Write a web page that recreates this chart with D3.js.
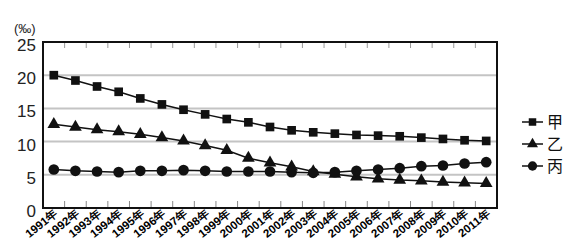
<!DOCTYPE html>
<html>
<head>
<meta charset="utf-8">
<script src="https://cdn.jsdelivr.net/npm/d3@7"></script>
<style>
  body { margin: 0; background: #fff; }
  svg { display: block; }
</style>
</head>
<body>
<div id="chart"></div>
<script>
'use strict';

// Data
const years = ['1991年', '1992年', '1993年', '1994年', '1995年', '1996年', '1997年',
  '1998年', '1999年', '2000年', '2001年', '2002年', '2003年', '2004年', '2005年',
  '2006年', '2007年', '2008年', '2009年', '2010年', '2011年'];
const jia = [20.0, 19.2, 18.3, 17.5, 16.5, 15.6, 14.8, 14.1, 13.4, 12.9, 12.2,
  11.7, 11.4, 11.2, 11.0, 10.9, 10.8, 10.6, 10.4, 10.2, 10.1];
const yi = [12.6, 12.2, 11.8, 11.5, 11.1, 10.6, 10.1, 9.4, 8.7, 7.5, 6.8,
  6.2, 5.5, 5.1, 4.7, 4.4, 4.2, 4.1, 3.9, 3.8, 3.7];
const bing = [5.8, 5.6, 5.5, 5.4, 5.6, 5.6, 5.7, 5.6, 5.5, 5.5, 5.5,
  5.4, 5.3, 5.4, 5.6, 5.8, 6.0, 6.3, 6.4, 6.7, 6.9];
const seriesNames = ['甲', '乙', '丙'];
const yTicks = [0, 5, 10, 15, 20, 25];
const unitLabel = '(‰)';

const W = 566, H = 248;
const plot = {left: 43, right: 497, top: 42, bottom: 208};

const svg = d3.select('#chart').append('svg')
  .attr('width', W).attr('height', H);

const x = d3.scaleBand().domain(years).range([plot.left, plot.right]);
const y = d3.scaleLinear().domain([0, 25]).range([plot.bottom, plot.top]);

// gridlines
svg.append('g')
  .selectAll('line')
  .data(yTicks.filter(d => d > 0 && d < 25))
  .join('line')
  .attr('x1', plot.left).attr('x2', plot.right)
  .attr('y1', d => y(d)).attr('y2', d => y(d))
  .attr('stroke', '#c4c4c4').attr('stroke-width', 2);

// bottom ticks, pointing up at the band edges
svg.append('g')
  .selectAll('line')
  .data(years.slice(1))
  .join('line')
  .attr('x1', d => x(d)).attr('x2', d => x(d))
  .attr('y1', plot.bottom).attr('y2', plot.bottom - 7)
  .attr('stroke', '#888').attr('stroke-width', 1);

// top ticks
svg.append('g')
  .selectAll('line')
  .data(years.slice(1))
  .join('line')
  .attr('x1', d => x(d)).attr('x2', d => x(d))
  .attr('y1', plot.top).attr('y2', plot.top + 6)
  .attr('stroke', '#999').attr('stroke-width', 1);

// x labels
svg.append('g')
  .selectAll('text')
  .data(years)
  .join('text')
  .attr('transform', d => `translate(${x(d) + x.bandwidth() / 2 + 5},${plot.bottom + 7}) rotate(-38)`)
  .attr('text-anchor', 'end')
  .attr('font-family', 'Liberation Sans, Arial, sans-serif')
  .attr('font-size', 11.5)
  .attr('font-weight', 'bold')
  .attr('fill', '#000')
  .text(d => d);

// y axis labels
const yAxis = svg.append('g')
  .attr('transform', `translate(${plot.left},0)`)
  .call(d3.axisLeft(y).tickValues(yTicks).tickSize(0).tickPadding(7));
yAxis.select('.domain').remove();
yAxis.selectAll('text')
  .attr('dy', '0.5em')
  .attr('font-family', 'Liberation Sans, Arial, sans-serif')
  .attr('font-size', 17)
  .attr('fill', '#222');

svg.append('text')
  .attr('x', 14).attr('y', 33)
  .attr('font-family', 'Liberation Sans, Arial, sans-serif')
  .attr('font-size', 13)
  .attr('fill', '#222')
  .text(unitLabel);

// frame
svg.append('rect')
  .attr('x', plot.left).attr('y', plot.top)
  .attr('width', plot.right - plot.left).attr('height', plot.bottom - plot.top)
  .attr('fill', 'none').attr('stroke', '#111').attr('stroke-width', 2);

const cx = d => x(d) + x.bandwidth() / 2;
const line = d3.line().x(d => cx(d.year)).y(d => y(d.v));

const symbols = [d3.symbolSquare, d3.symbolTriangle, d3.symbolCircle];
const symbolSizes = [75, 70, 90];
const allSeries = [jia, yi, bing];

allSeries.forEach((vals, i) => {
  const pts = vals.map((v, j) => ({year: years[j], v}));
  svg.append('path')
    .datum(pts)
    .attr('d', line)
    .attr('fill', 'none')
    .attr('stroke', '#111')
    .attr('stroke-width', 1.5);
  svg.append('g')
    .selectAll('path')
    .data(pts)
    .join('path')
    .attr('transform', d => `translate(${cx(d.year)},${y(d.v)})`)
    .attr('d', d3.symbol(symbols[i], symbolSizes[i]))
    .attr('fill', '#111');
});

// legend
const legend = svg.append('g').attr('transform', 'translate(522,122)');
seriesNames.forEach((name, i) => {
  const g = legend.append('g').attr('transform', `translate(0,${i * 22})`);
  g.append('line')
    .attr('x1', 0).attr('x2', 21)
    .attr('stroke', '#111').attr('stroke-width', 1.5);
  g.append('path')
    .attr('transform', 'translate(10.5,0)')
    .attr('d', d3.symbol(symbols[i], symbolSizes[i] * 0.75))
    .attr('fill', '#111');
  g.append('text')
    .attr('x', 25).attr('y', 0)
    .attr('dy', '0.36em')
    .attr('font-family', 'Noto Sans CJK SC, sans-serif')
    .attr('font-size', 16)
    .attr('fill', '#111')
    .text(name);
});
</script>
</body>
</html>
